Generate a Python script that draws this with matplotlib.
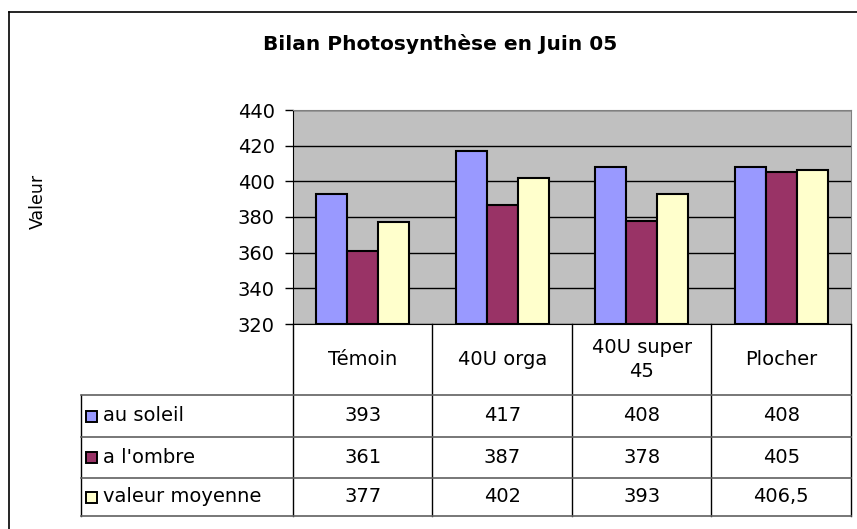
import numpy as np
import matplotlib.pyplot as plt
from matplotlib.lines import Line2D
from matplotlib.patches import Rectangle

categories = ['Témoin', '40U orga', '40U super\n45', 'Plocher']
series = ['au soleil', "a l'ombre", 'valeur moyenne']
au_soleil = [393, 417, 408, 408]
a_l_ombre = [361, 387, 378, 405]
valeur_moyenne = [377, 402, 393, 406.5]
cell_text = [['393', '417', '408', '408'],
             ['361', '387', '378', '405'],
             ['377', '402', '393', '406,5']]
colors = ['#9999FF', '#993366', '#FFFFCC']

W, H = 857, 529
fig = plt.figure(figsize=(W / 100, H / 100), dpi=100)


def fx(x):
    return x / W


def fy(y):
    return 1 - y / H


# cadre du graphique
fig.add_artist(Line2D([fx(9), fx(9)], [fy(12), 0], color='black', lw=1.2))
fig.add_artist(Line2D([fx(9), 1], [fy(12), fy(12)], color='black', lw=1.2))

fig.text(fx(440), fy(44), 'Bilan Photosynthèse en Juin 05', ha='center', va='center',
         fontsize=14.5, fontweight='bold')
fig.text(fx(38), fy(201), 'Valeur', rotation=90, ha='center', va='center', fontsize=12.5)

# zone de tracé
left, right, top, bottom = 293, 851, 110, 324
ax = fig.add_axes([fx(left), fy(bottom), (right - left) / W, (bottom - top) / H])
ax.set_facecolor('#C0C0C0')

x = np.arange(len(categories))
w = 1 / 4.5
for i, (vals, c) in enumerate(zip([au_soleil, a_l_ombre, valeur_moyenne], colors)):
    ax.bar(x + (i - 1) * w, np.array(vals) - 320, bottom=320, width=w, color=c,
           edgecolor='black', linewidth=1.5, zorder=3)

ax.set_xlim(-0.5, 3.5)
ax.set_ylim(320, 440)
ax.set_yticks(np.arange(320, 441, 20))
ax.yaxis.grid(True, color='black', linewidth=1, zorder=1)
ax.set_xticks([])
ax.tick_params(axis='y', direction='out', length=6, width=1, labelsize=14, pad=7)
ax.spines['top'].set_color('#808080')
ax.spines['right'].set_color('#808080')
ax.spines['left'].set_color('black')
ax.spines['bottom'].set_color('black')

# tableau de données
t_left, t_bottom = 81, 516
tab = fig.add_axes([fx(t_left), fy(t_bottom), (right - t_left) / W, (t_bottom - bottom) / H])
tab.set_xlim(t_left, right)
tab.set_ylim(t_bottom, bottom)
tab.axis('off')

col_w = (right - left) / len(categories)
row_y = [bottom, 395, 437, 478, t_bottom]

for k in range(len(categories) + 1):
    xx = left + k * col_w
    tab.plot([xx, xx], [bottom, t_bottom], color='black', lw=1, clip_on=False)
tab.plot([t_left, t_left], [row_y[1], t_bottom], color='black', lw=1, clip_on=False)
for yy in row_y[1:]:
    tab.plot([t_left, right], [yy, yy], color='#606060', lw=1.2, clip_on=False)

for k, cat in enumerate(categories):
    tab.text(left + (k + 0.5) * col_w, (row_y[0] + row_y[1]) / 2, cat, ha='center',
             va='center', fontsize=14, linespacing=1.35)

for r, name in enumerate(series):
    yc = (row_y[r + 1] + row_y[r + 2]) / 2
    tab.add_patch(Rectangle((86, yc - 5), 11, 11, facecolor=colors[r], edgecolor='black',
                            lw=1.4, clip_on=False))
    tab.text(103, yc, name, ha='left', va='center', fontsize=14)
    for k in range(len(categories)):
        tab.text(left + (k + 0.5) * col_w, yc, cell_text[r][k], ha='center', va='center',
                 fontsize=14)

fig.savefig('out.png', dpi=100)
